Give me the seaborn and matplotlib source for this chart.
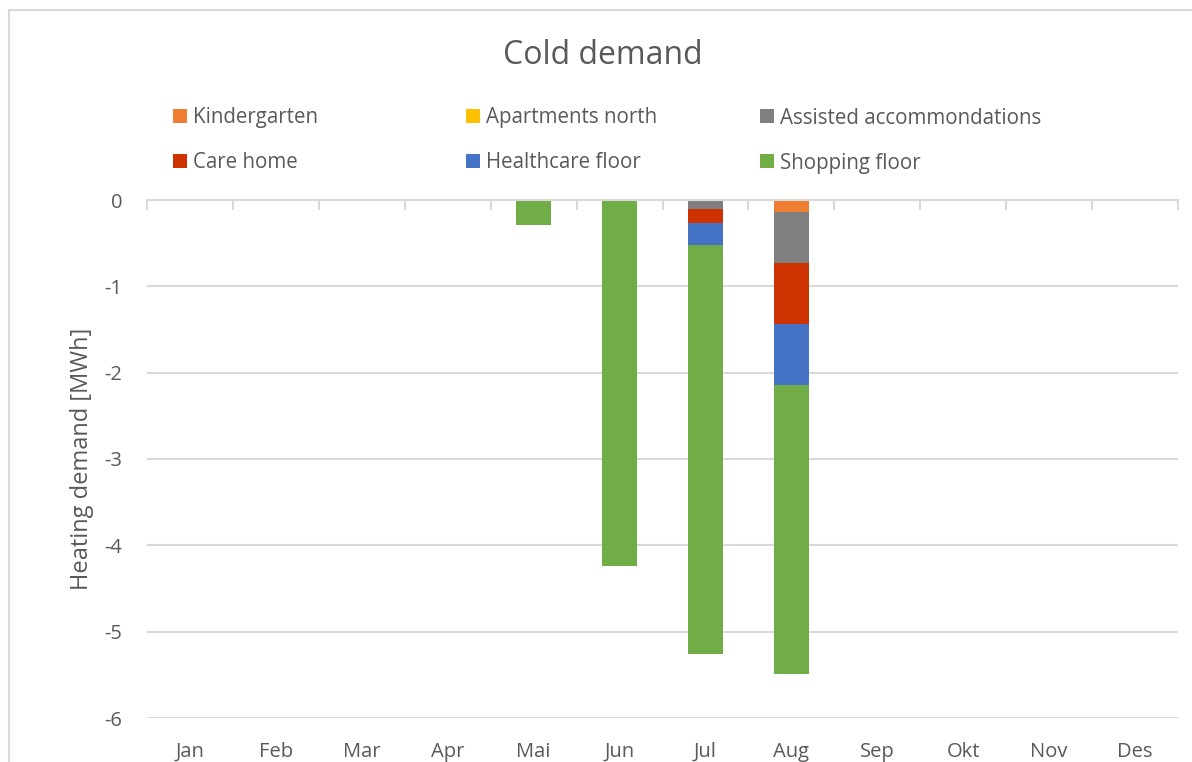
import numpy as np
import pandas as pd
import matplotlib
matplotlib.use("Agg")
import matplotlib.pyplot as plt
from matplotlib.patches import Rectangle, Patch
import seaborn as sns

months = ["Jan", "Feb", "Mar", "Apr", "Mai", "Jun", "Jul", "Aug", "Sep", "Okt", "Nov", "Des"]
kindergarten = [0, 0, 0, 0, 0, 0, 0, -0.135, 0, 0, 0, 0]
apartments_north = [0, 0, 0, 0, 0, 0, 0, 0, 0, 0, 0, 0]
assisted = [0, 0, 0, 0, 0, 0, -0.11, -0.60, 0, 0, 0, 0]
care_home = [0, 0, 0, 0, 0, 0, -0.16, -0.705, 0, 0, 0, 0]
healthcare = [0, 0, 0, 0, 0, 0, -0.255, -0.70, 0, 0, 0, 0]
shopping = [0, 0, 0, 0, -0.295, -4.235, -4.735, -3.35, 0, 0, 0, 0]

series_names = ["Kindergarten", "Apartments north", "Assisted accommondations",
                "Care home", "Healthcare floor", "Shopping floor"]
series_vals = [kindergarten, apartments_north, assisted, care_home, healthcare, shopping]
colors = ["#ED7D31", "#FFC000", "#7F7F7F", "#CC3300", "#4472C4", "#70AD47"]

sns.set_theme(style="white")
plt.rcParams["font.family"] = ["Open Sans", "DejaVu Sans"]
plt.rcParams["axes.unicode_minus"] = False
text_col = "#595959"
grid_col = "#D9D9D9"

fig = plt.figure(figsize=(11.92, 7.62), dpi=100)
ax = fig.add_axes([147 / 1192, 1 - 718 / 762, 1031 / 1192, 518 / 762])

# stacked negative bars: draw cumulative totals, deepest first
cum = np.cumsum(np.array(series_vals), axis=0)
for i in range(len(series_names) - 1, -1, -1):
    df = pd.DataFrame({"month": months, "value": cum[i]})
    sns.barplot(data=df, x="month", y="value", color=colors[i], width=0.41,
                saturation=1, ax=ax, zorder=3, linewidth=0)

ax.set_ylim(-6, 0)
ax.set_xlim(-0.5, 11.5)
ax.set_yticks(range(-6, 1))
ax.yaxis.grid(True, color=grid_col, linewidth=1.5, zorder=0)
ax.set_axisbelow(True)
for s in ["left", "right", "bottom"]:
    ax.spines[s].set_visible(False)
ax.spines["top"].set_color(grid_col)
ax.spines["top"].set_linewidth(1.5)
ax.spines["top"].set_zorder(4)

ax.set_xticks(range(12))
ax.set_xticklabels(months)
ax.set_xticks(np.arange(-0.5, 12, 1), minor=True)
ax.tick_params(axis="x", which="major", length=0, pad=17, labelsize=14.5, labelcolor=text_col)
ax.tick_params(axis="x", which="minor", top=True, bottom=False, direction="in",
               length=7, width=1.5, color=grid_col)
ax.tick_params(axis="y", length=0, pad=18, labelsize=14.5, labelcolor=text_col)
ax.set_xlabel("")
ax.set_ylabel("Heating demand [MWh]", fontsize=17, color=text_col, labelpad=7)

fig.text(603 / 1192, 1 - 55 / 762, "Cold demand", ha="center", va="center",
         fontsize=23, color=text_col)

# legend: 3 x 2 grid, each entry placed like the original
col_x = [173, 466, 760]
row_y = [118, 163]
for k, name in enumerate(series_names):
    cx = col_x[k % 3] / 1192
    cy = 1 - row_y[k // 3] / 762
    leg = fig.legend([Patch(facecolor=colors[k], edgecolor="none")], [name],
                     loc="center left", bbox_to_anchor=(cx, cy), frameon=False,
                     fontsize=14.8, handlelength=0.67, handleheight=0.67,
                     handletextpad=0.3, borderaxespad=0, borderpad=0)
    for t in leg.get_texts():
        t.set_color(text_col)

fig.add_artist(Rectangle((9 / 1192, -0.1), 1.2, 1.1 - 10 / 762, transform=fig.transFigure,
                         fill=False, edgecolor=grid_col, linewidth=1.5))

fig.savefig("out.png", dpi=100)
